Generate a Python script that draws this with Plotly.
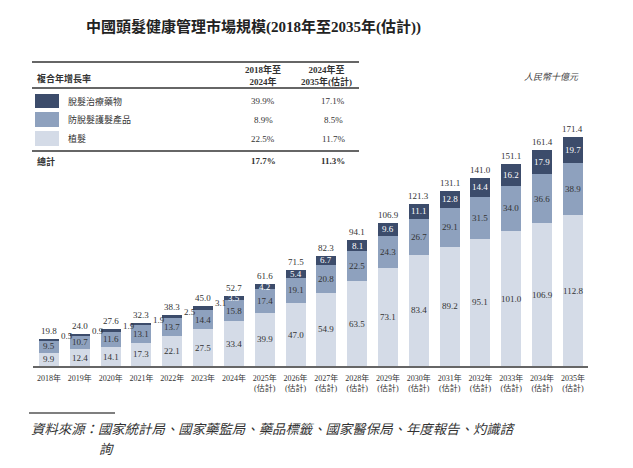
import plotly.graph_objects as go

years = ["2018年", "2019年", "2020年", "2021年", "2022年", "2023年", "2024年",
         "2025年<br>(估計)", "2026年<br>(估計)", "2027年<br>(估計)", "2028年<br>(估計)",
         "2029年<br>(估計)", "2030年<br>(估計)", "2031年<br>(估計)", "2032年<br>(估計)",
         "2033年<br>(估計)", "2034年<br>(估計)", "2035年<br>(估計)"]
transplant = [9.9, 12.4, 14.1, 17.3, 22.1, 27.5, 33.4, 39.9, 47.0, 54.9, 63.5, 73.1, 83.4, 89.2, 95.1, 101.0, 106.9, 112.8]
care = [9.5, 10.7, 11.6, 13.1, 13.7, 14.4, 15.8, 17.4, 19.1, 20.8, 22.5, 24.3, 26.7, 29.1, 31.5, 34.0, 36.6, 38.9]
drugs = [0.5, 0.9, 1.9, 1.9, 2.5, 3.1, 3.5, 4.2, 5.4, 6.7, 8.1, 9.6, 11.1, 12.8, 14.4, 16.2, 17.9, 19.7]
totals = [19.8, 24.0, 27.6, 32.3, 38.3, 45.0, 52.7, 61.6, 71.5, 82.3, 94.1, 106.9, 121.3, 131.1, 141.0, 151.1, 161.4, 171.4]

series_names = ["脫髮治療藥物", "防脫髮護髮產品", "植髮"]
cagr_18_24 = ["39.9%", "8.9%", "22.5%"]
cagr_24_35 = ["17.1%", "8.5%", "11.7%"]
total_cagr = ["17.7%", "11.3%"]

C_DARK = "#3c4c6b"
C_MID = "#8ea1be"
C_LIGHT = "#d4dbe7"
TXT = "#333333"
FONT = "Liberation Serif, Noto Sans CJK TC"

OFF = 8  # page body margin
W, H = 633 - OFF, 468 - OFF
# plot area in reference-window pixels
PL, PR, PT, PB = 33, 588, 130, 366
L, R, T, B = PL - OFF, W - (PR - OFF), PT - OFF, H - (PB - OFF)
PW, PH = PR - PL, PB - PT


def px(xp):
    return (xp - PL) / PW


def py(yp):
    return (PB - yp) / PH


idx = list(range(len(years)))
BW = 0.65

fig = go.Figure()
for vals, col, name in [(transplant, C_LIGHT, "植髮"), (care, C_MID, "防脫髮護髮產品"), (drugs, C_DARK, "脫髮治療藥物")]:
    fig.add_trace(go.Bar(x=idx, y=vals, width=BW, marker=dict(color=col, line=dict(width=0)),
                         name=name, showlegend=False, hoverinfo="skip"))

ann = []
for i in idx:
    ann.append(dict(x=i, y=transplant[i] / 2, text=f"{transplant[i]:.1f}", showarrow=False,
                    font=dict(size=9, color=TXT, family=FONT)))
    ann.append(dict(x=i, y=transplant[i] + care[i] / 2, text=f"{care[i]:.1f}", showarrow=False,
                    font=dict(size=9, color=TXT, family=FONT)))
    top = transplant[i] + care[i] + drugs[i]
    if i <= 5:
        ann.append(dict(x=i + BW / 2, y=top, text=f"{drugs[i]:.1f}", showarrow=False,
                        xanchor="left", yanchor="middle", xshift=0, yshift=3,
                        font=dict(size=9, color=TXT, family=FONT)))
    else:
        ann.append(dict(x=i, y=transplant[i] + care[i] + drugs[i] / 2, text=f"{drugs[i]:.1f}",
                        showarrow=False, font=dict(size=9, color="white", family=FONT)))
    ann.append(dict(x=i, y=top, text=f"{totals[i]:.1f}", showarrow=False, yanchor="bottom", yshift=1,
                    font=dict(size=9, color=TXT, family=FONT)))


def pann(x, y, text, size=9, color=TXT, xanchor="center"):
    ann.append(dict(xref="paper", yref="paper", x=px(x), y=py(y), showarrow=False,
                    xanchor=xanchor, yanchor="middle", text=text,
                    font=dict(size=size, color=color, family=FONT)))


pann(253, 27, "<b>中國頭髮健康管理市場規模(2018年至2035年(估計))</b>", size=15, color="#222")
pann(581, 77, "<i>人民幣十億元</i>", color="#444", xanchor="right")
pann(35, 79, "<b>複合年增長率</b>", xanchor="left")
pann(263, 75.5, "<b>2018年至<br>2024年</b>")
pann(326, 75.5, "<b>2024年至<br>2035年(估計)</b>")

shapes = []
row_y = [101, 119.5, 138.5]
sw = [(94, 108), (112, 127), (131, 146)]
cols = [C_DARK, C_MID, C_LIGHT]
for k in range(3):
    shapes.append(dict(type="rect", xref="paper", yref="paper", x0=px(35), x1=px(59),
                       y0=py(sw[k][1]), y1=py(sw[k][0]), fillcolor=cols[k], line=dict(width=0)))
    pann(66, row_y[k], series_names[k], xanchor="left")
    pann(263, row_y[k], cagr_18_24[k])
    pann(333, row_y[k], cagr_24_35[k])
pann(35, 161, "<b>總計</b>", xanchor="left")
pann(263, 161, "<b>" + total_cagr[0] + "</b>")
pann(333, 161, "<b>" + total_cagr[1] + "</b>")

for yl, wdt in [(62, 1.6), (88, 1.6), (151, 1.6)]:
    shapes.append(dict(type="line", xref="paper", yref="paper", x0=px(32), x1=px(359),
                       y0=py(yl), y1=py(yl), line=dict(color="#333", width=wdt)))

shapes.append(dict(type="line", xref="paper", yref="paper", x0=px(29), x1=px(115),
                   y0=py(413), y1=py(413), line=dict(color="#555", width=1.5)))
pann(29, 429, "<i>資料來源：國家統計局、國家藥監局、藥品標籤、國家醫保局、年度報告、灼識諮</i>",
     size=13.4, xanchor="left")
pann(97, 449, "<i>詢</i>", size=13.4, xanchor="left")

fig.update_layout(
    width=W, height=H, margin=dict(l=L, r=R, t=T, b=B, pad=0),
    barmode="stack", plot_bgcolor="white", paper_bgcolor="white",
    annotations=ann, shapes=shapes, showlegend=False,
    xaxis=dict(range=[-0.52, 17.49], tickvals=idx, ticktext=years, showline=True, linecolor="#666",
               linewidth=2, showgrid=False, zeroline=False, ticks="", fixedrange=True,
               ticklabelstandoff=3, tickfont=dict(size=8, color=TXT, family=FONT)),
    yaxis=dict(range=[0, PH / 1.336], visible=False, showgrid=False, zeroline=False),
)
fig.write_html("out.html")
